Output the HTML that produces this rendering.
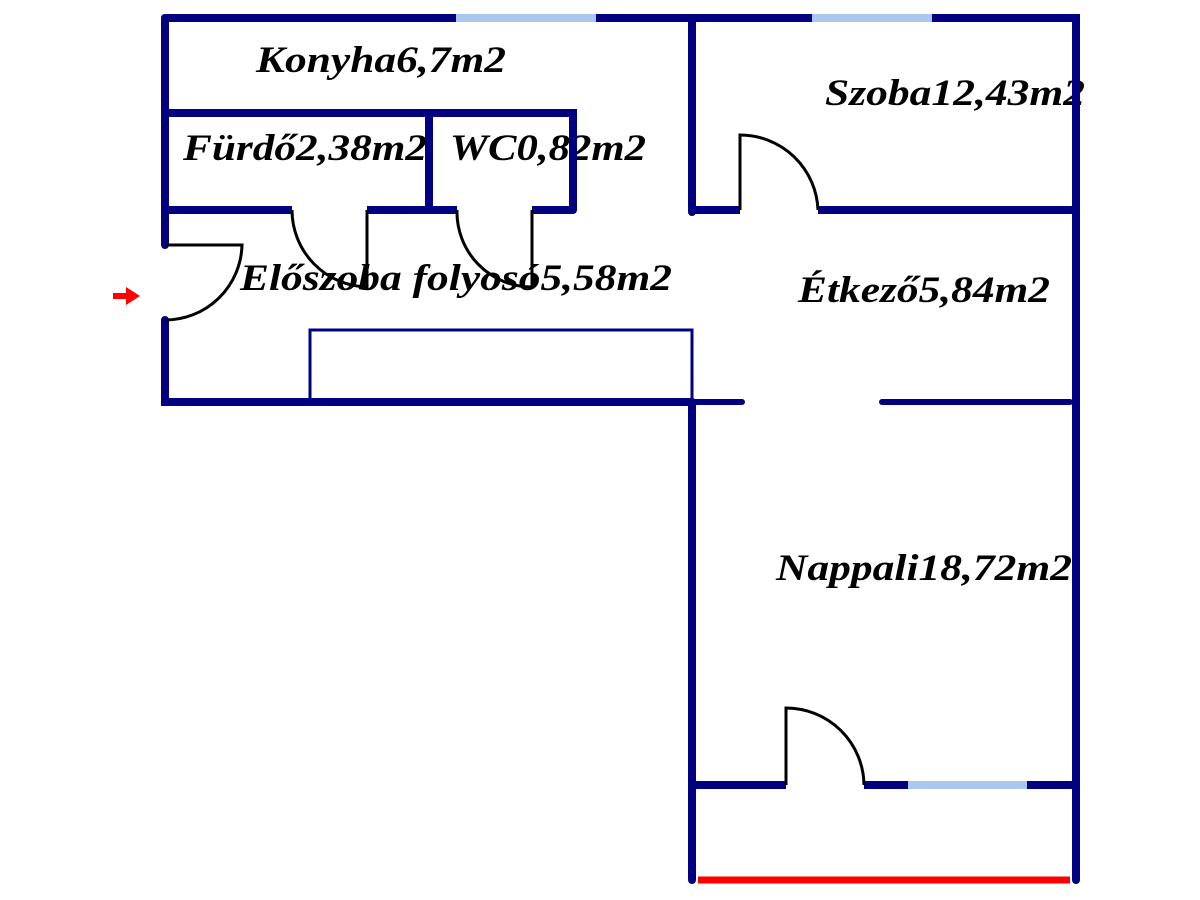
<!DOCTYPE html>
<html><head><meta charset="utf-8"><style>html,body{margin:0;padding:0;background:#fff}svg{display:block}.t{font-family:"Liberation Serif","Times New Roman",serif;font-weight:bold;font-style:italic;font-size:37px}</style></head><body>
<svg width="1200" height="900" viewBox="0 0 1200 900" xmlns="http://www.w3.org/2000/svg">
<rect width="1200" height="900" fill="#fff"/>
<g class="t" fill="#000">
<text x="256" y="72" textLength="250" lengthAdjust="spacingAndGlyphs">Konyha6,7m2</text>
<text x="825" y="105" textLength="260" lengthAdjust="spacingAndGlyphs">Szoba12,43m2</text>
<text x="183" y="160" textLength="244" lengthAdjust="spacingAndGlyphs">Fürdő2,38m2</text>
<text x="450" y="160" textLength="196" lengthAdjust="spacingAndGlyphs">WC0,82m2</text>
<text x="240" y="290" textLength="432" lengthAdjust="spacingAndGlyphs">Előszoba folyosó5,58m2</text>
<text x="798" y="302" textLength="252" lengthAdjust="spacingAndGlyphs">Étkező5,84m2</text>
<text x="776" y="580" textLength="296" lengthAdjust="spacingAndGlyphs">Nappali18,72m2</text>
</g>
<g stroke="#000080" stroke-width="8" stroke-linecap="round" fill="none">
<path d="M165 18 H1076 V880"/>
<path d="M165 18 V245 M165 320 V402 H692"/>
<path d="M692 18 V212 M692 402 V880"/>
<path d="M165 113 H573 V210 M429 113 V210"/>
<path d="M165 210 H292 M367 210 H457 M532 210 H573" stroke-linecap="butt"/>
<path d="M692 210 H740 M818 210 H1076" stroke-linecap="butt"/>
<path d="M692 402 H742 M882 402 H1070" stroke-width="6"/>
<path d="M692 785 H786 M864 785 H1076" stroke-linecap="butt"/>
</g>
<g stroke="#a9c9ec" stroke-width="8">
<path d="M456 18 H596 M812 18 H932 M908 785 H1027"/>
</g>
<path d="M698 880 H1070" stroke="#f00" stroke-width="7"/>
<rect x="310" y="330" width="382" height="72" fill="none" stroke="#000080" stroke-width="3"/>
<g stroke="#000" stroke-width="3" fill="none">
<path d="M367 210 V287 A77 77 0 0 1 292 210"/>
<path d="M532 210 V287 A75 75 0 0 1 457 210"/>
<path d="M165 245 H242 A77 77 0 0 1 165 320"/>
<path d="M740 210 V135 A78 78 0 0 1 818 210"/>
<path d="M786 785 V708 A78 78 0 0 1 864 785"/>
</g>
<path d="M113 293 H126 V287 L140 296 L126 305 V299 H113 Z" fill="#f00"/>
</svg>
</body></html>
